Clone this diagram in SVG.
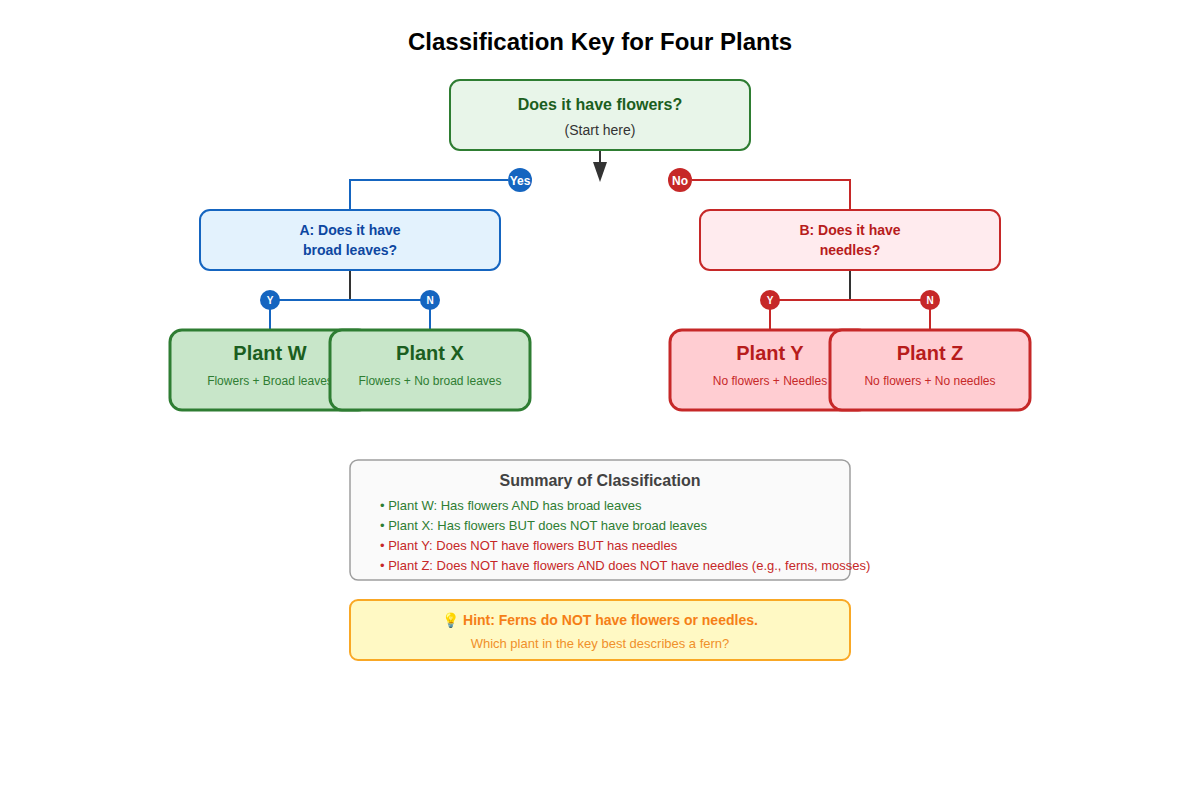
<svg xmlns="http://www.w3.org/2000/svg" width="1200" height="800" viewBox="0 0 1200 800">
<defs>
<style>
text{font-family:"Liberation Sans",Arial,sans-serif;text-anchor:middle}
.title{font-size:24px;font-weight:bold;fill:#000}
.q{stroke-width:2}
.leaf{stroke-width:3}
.g{fill:#c8e6c9;stroke:#2e7d32}
.r{fill:#ffcdd2;stroke:#c62828}
.lt{font-size:20px;font-weight:bold}
.ls{font-size:12px}
.badge{font-weight:bold;fill:#fff}
.blue{stroke:#1565c0;stroke-width:2;fill:none}
.red{stroke:#c62828;stroke-width:2;fill:none}
.dark{stroke:#333;stroke-width:2;fill:none}
.item{font-size:13px;text-anchor:start}
</style>
</defs>
<rect width="1200" height="800" fill="#fff"/>
<text class="title" x="600" y="50">Classification Key for Four Plants</text>

<g id="connectors">
<line class="dark" x1="600" y1="150" x2="600" y2="165"/>
<polygon points="593,162 607,162 600,182" fill="#333"/>
<polyline class="blue" points="508,180 350,180 350,210"/>
<polyline class="red" points="692,180 850,180 850,210"/>
<line class="dark" x1="350" y1="270" x2="350" y2="300"/>
<polyline class="blue" points="270,330 270,300 430,300 430,330"/>
<line class="dark" x1="850" y1="270" x2="850" y2="300"/>
<polyline class="red" points="770,330 770,300 930,300 930,330"/>
<circle cx="520" cy="180" r="12" fill="#1565c0"/>
<text class="badge" x="520" y="185" font-size="12">Yes</text>
<circle cx="680" cy="180" r="12" fill="#c62828"/>
<text class="badge" x="680" y="185" font-size="12">No</text>
<circle cx="270" cy="300" r="10" fill="#1565c0"/>
<text class="badge" x="270" y="304" font-size="10">Y</text>
<circle cx="430" cy="300" r="10" fill="#1565c0"/>
<text class="badge" x="430" y="304" font-size="10">N</text>
<circle cx="770" cy="300" r="10" fill="#c62828"/>
<text class="badge" x="770" y="304" font-size="10">Y</text>
<circle cx="930" cy="300" r="10" fill="#c62828"/>
<text class="badge" x="930" y="304" font-size="10">N</text>
</g>

<g id="start">
<rect x="450" y="80" width="300" height="70" rx="10" fill="#e8f5e9" stroke="#2e7d32" class="q"/>
<text x="600" y="110" font-size="16" font-weight="bold" fill="#1b5e20">Does it have flowers?</text>
<text x="600" y="135" font-size="14" fill="#333">(Start here)</text>
</g>

<g id="nodeA">
<rect x="200" y="210" width="300" height="60" rx="10" fill="#e3f2fd" stroke="#1565c0" class="q"/>
<text x="350" y="235" font-size="14" font-weight="bold" fill="#0d47a1">A: Does it have</text>
<text x="350" y="255" font-size="14" font-weight="bold" fill="#0d47a1">broad leaves?</text>
</g>

<g id="nodeB">
<rect x="700" y="210" width="300" height="60" rx="10" fill="#ffebee" stroke="#c62828" class="q"/>
<text x="850" y="235" font-size="14" font-weight="bold" fill="#b71c1c">B: Does it have</text>
<text x="850" y="255" font-size="14" font-weight="bold" fill="#b71c1c">needles?</text>
</g>

<g id="plantW">
<rect x="170" y="330" width="200" height="80" rx="12" class="leaf g"/>
<text class="lt" x="270" y="360" fill="#1b5e20">Plant W</text>
<text class="ls" x="270" y="385" fill="#2e7d32">Flowers + Broad leaves</text>
</g>
<g id="plantX">
<rect x="330" y="330" width="200" height="80" rx="12" class="leaf g"/>
<text class="lt" x="430" y="360" fill="#1b5e20">Plant X</text>
<text class="ls" x="430" y="385" fill="#2e7d32">Flowers + No broad leaves</text>
</g>
<g id="plantY">
<rect x="670" y="330" width="200" height="80" rx="12" class="leaf r"/>
<text class="lt" x="770" y="360" fill="#b71c1c">Plant Y</text>
<text class="ls" x="770" y="385" fill="#c62828">No flowers + Needles</text>
</g>
<g id="plantZ">
<rect x="830" y="330" width="200" height="80" rx="12" class="leaf r"/>
<text class="lt" x="930" y="360" fill="#b71c1c">Plant Z</text>
<text class="ls" x="930" y="385" fill="#c62828">No flowers + No needles</text>
</g>

<g id="summary">
<rect x="350" y="460" width="500" height="120" rx="8" fill="#fafafa" stroke="#9e9e9e" stroke-width="1.5"/>
<text x="600" y="486" font-size="16" font-weight="bold" fill="#424242">Summary of Classification</text>
<text class="item" x="380" y="510" fill="#2e7d32">• Plant W: Has flowers AND has broad leaves</text>
<text class="item" x="380" y="530" fill="#2e7d32">• Plant X: Has flowers BUT does NOT have broad leaves</text>
<text class="item" x="380" y="550" fill="#c62828">• Plant Y: Does NOT have flowers BUT has needles</text>
<text class="item" x="380" y="570" fill="#c62828">• Plant Z: Does NOT have flowers AND does NOT have needles (e.g., ferns, mosses)</text>
</g>

<g id="hint">
<rect x="350" y="600" width="500" height="60" rx="8" fill="#fff9c4" stroke="#f9a825" stroke-width="2"/>
<text x="600" y="625" font-size="14" font-weight="bold" fill="#f57f17">💡 Hint: Ferns do NOT have flowers or needles.</text>
<text x="600" y="648" font-size="13" fill="#f0902a">Which plant in the key best describes a fern?</text>
</g>
</svg>
